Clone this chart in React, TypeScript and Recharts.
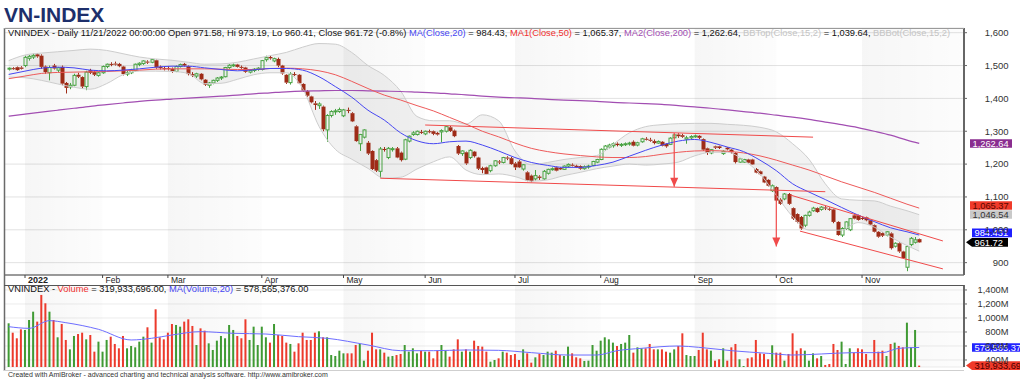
import {
  ComposedChart,
  Bar,
  Line,
  Area,
  XAxis,
  YAxis,
  CartesianGrid,
  ReferenceArea,
  ReferenceLine,
  ReferenceDot,
} from 'recharts';

// one row per session: [open, high, low, close, volume (millions)]
const dec21 = [
  [1490, 1494, 1485, 1492, 924], [1492, 1495, 1487, 1491, 790], [1495, 1497, 1484, 1486, 710], [1494, 1498, 1488, 1490, 838],
];
const jan22 = [
  [1500, 1530, 1495, 1525, 829], [1522, 1532, 1515, 1528, 971], [1526, 1536, 1520, 1531, 1090], [1534, 1537, 1524, 1528, 948],
  [1530, 1534, 1490, 1496, 1329], [1497, 1500, 1475, 1480, 1210], [1478, 1500, 1455, 1494, 1090], [1500, 1505, 1488, 1491, 971],
  [1486, 1496, 1480, 1493, 724], [1496, 1500, 1440, 1445, 914], [1447, 1450, 1415, 1432, 686], [1435, 1447, 1428, 1440, 552],
  [1440, 1475, 1437, 1470, 743], [1472, 1478, 1462, 1466, 771], [1465, 1467, 1430, 1436, 790], [1436, 1484, 1425, 1480, 695],
  [1486, 1490, 1474, 1478, 757], [1480, 1485, 1468, 1472, 519], [1470, 1480, 1466, 1478, 662],
];
const feb22 = [
  [1478, 1500, 1475, 1497, 519], [1497, 1506, 1492, 1504, 686], [1505, 1510, 1498, 1502, 733], [1506, 1512, 1500, 1503, 629],
  [1505, 1508, 1495, 1498, 567], [1497, 1499, 1470, 1474, 743], [1474, 1484, 1468, 1478, 567], [1478, 1490, 1474, 1486, 600],
  [1485, 1506, 1482, 1504, 581], [1503, 1510, 1498, 1507, 662], [1506, 1516, 1502, 1514, 733], [1512, 1516, 1505, 1509, 867],
  [1510, 1520, 1507, 1518, 648], [1516, 1518, 1490, 1494, 1124], [1496, 1500, 1488, 1492, 724], [1492, 1497, 1485, 1490, 695],
];
const mar22 = [
  [1492, 1498, 1485, 1490, 790], [1490, 1494, 1478, 1481, 914], [1482, 1500, 1480, 1497, 900], [1497, 1506, 1494, 1503, 876],
  [1505, 1508, 1497, 1500, 948], [1498, 1500, 1470, 1474, 981], [1474, 1480, 1465, 1470, 886], [1468, 1478, 1462, 1475, 614],
  [1475, 1477, 1455, 1458, 852], [1457, 1459, 1438, 1442, 819], [1440, 1450, 1432, 1447, 638], [1447, 1457, 1443, 1455, 543],
  [1455, 1465, 1450, 1462, 676], [1462, 1468, 1456, 1465, 743], [1466, 1496, 1464, 1494, 710], [1494, 1504, 1490, 1501, 900],
  [1500, 1506, 1496, 1502, 829], [1503, 1505, 1494, 1496, 743], [1496, 1500, 1490, 1494, 710], [1494, 1496, 1478, 1481, 981],
  [1480, 1488, 1476, 1485, 686], [1485, 1492, 1480, 1489, 876], [1488, 1495, 1484, 1492, 614],
];
const apr22 = [
  [1488, 1517, 1485, 1515, 876], [1518, 1530, 1512, 1524, 724], [1526, 1530, 1518, 1522, 648], [1514, 1524, 1510, 1521, 914],
  [1520, 1524, 1495, 1500, 757], [1500, 1502, 1472, 1476, 743], [1472, 1474, 1444, 1448, 648], [1448, 1480, 1442, 1474, 629],
  [1474, 1480, 1468, 1472, 519], [1472, 1474, 1444, 1446, 638], [1444, 1446, 1420, 1424, 790], [1422, 1425, 1405, 1408, 686],
  [1406, 1408, 1385, 1388, 686], [1385, 1392, 1365, 1380, 790], [1378, 1388, 1368, 1383, 810], [1375, 1378, 1300, 1306, 724],
  [1304, 1352, 1268, 1348, 724], [1348, 1364, 1342, 1360, 471], [1360, 1368, 1350, 1362, 457], [1360, 1372, 1356, 1366, 533],
];
const may22 = [
  [1347, 1368, 1343, 1365, 495], [1365, 1372, 1355, 1362, 495], [1355, 1358, 1328, 1330, 495], [1315, 1318, 1268, 1270, 614],
  [1262, 1292, 1240, 1290, 629], [1282, 1306, 1278, 1304, 390], [1265, 1270, 1228, 1232, 533], [1240, 1242, 1182, 1185, 790],
  [1212, 1215, 1176, 1180, 552], [1178, 1252, 1158, 1246, 552], [1246, 1252, 1238, 1245, 505], [1220, 1252, 1215, 1248, 448],
  [1245, 1252, 1238, 1247, 457], [1248, 1252, 1218, 1220, 471], [1235, 1238, 1208, 1212, 486], [1215, 1277, 1212, 1274, 614],
  [1270, 1287, 1266, 1285, 519], [1290, 1300, 1286, 1295, 567], [1290, 1302, 1287, 1300, 495], [1298, 1304, 1292, 1296, 533],
];
const jun22 = [
  [1292, 1302, 1288, 1300, 519], [1300, 1305, 1294, 1298, 519], [1300, 1302, 1288, 1292, 424], [1295, 1298, 1287, 1290, 533],
  [1298, 1306, 1266, 1302, 614], [1300, 1316, 1296, 1314, 533], [1312, 1316, 1298, 1301, 448], [1302, 1305, 1282, 1285, 552],
  [1255, 1258, 1228, 1232, 695], [1232, 1242, 1225, 1240, 519], [1236, 1238, 1198, 1202, 552], [1220, 1245, 1215, 1242, 519],
  [1238, 1240, 1220, 1224, 676], [1220, 1222, 1182, 1186, 600], [1188, 1192, 1172, 1182, 591], [1190, 1192, 1168, 1170, 519],
  [1180, 1198, 1175, 1195, 376], [1195, 1212, 1192, 1210, 400], [1208, 1212, 1200, 1205, 424], [1205, 1222, 1202, 1220, 519],
  [1220, 1224, 1212, 1218, 505], [1218, 1222, 1198, 1200, 471],
];
const jul22 = [
  [1202, 1206, 1182, 1190, 486], [1208, 1212, 1188, 1190, 400], [1185, 1200, 1180, 1198, 552], [1175, 1178, 1148, 1150, 495],
  [1165, 1168, 1145, 1148, 362], [1155, 1182, 1150, 1165, 438], [1162, 1166, 1152, 1158, 486], [1155, 1182, 1152, 1178, 471],
  [1172, 1186, 1168, 1184, 519], [1184, 1190, 1180, 1186, 505], [1190, 1192, 1178, 1180, 533], [1188, 1190, 1182, 1184, 471],
  [1184, 1196, 1182, 1194, 457], [1194, 1202, 1190, 1199, 591], [1198, 1202, 1193, 1197, 495], [1195, 1198, 1188, 1190, 438],
  [1194, 1196, 1183, 1186, 424], [1186, 1196, 1183, 1192, 386], [1192, 1198, 1186, 1194, 390], [1196, 1210, 1194, 1208, 614],
  [1206, 1216, 1203, 1214, 533],
];
const aug22 = [
  [1214, 1248, 1212, 1245, 676], [1245, 1258, 1240, 1255, 724], [1252, 1262, 1248, 1258, 695], [1256, 1266, 1250, 1262, 648],
  [1262, 1266, 1254, 1258, 600], [1258, 1264, 1252, 1260, 629], [1260, 1266, 1255, 1262, 648], [1262, 1268, 1256, 1264, 757],
  [1268, 1272, 1254, 1256, 505], [1258, 1268, 1254, 1265, 581], [1268, 1280, 1265, 1277, 567], [1277, 1282, 1272, 1276, 567],
  [1274, 1280, 1268, 1273, 629], [1270, 1275, 1260, 1264, 552], [1264, 1272, 1262, 1269, 552], [1268, 1270, 1254, 1256, 552],
  [1262, 1264, 1250, 1254, 519], [1260, 1282, 1258, 1279, 505], [1280, 1292, 1278, 1289, 552], [1290, 1294, 1280, 1285, 600],
  [1288, 1292, 1280, 1283, 781], [1276, 1286, 1262, 1280, 471], [1280, 1288, 1276, 1284, 457],
];
const sep22 = [
  [1284, 1290, 1280, 1286, 457], [1286, 1288, 1276, 1280, 543], [1276, 1278, 1240, 1244, 790], [1248, 1250, 1228, 1234, 552],
  [1234, 1246, 1230, 1244, 533], [1254, 1256, 1246, 1250, 390], [1254, 1256, 1246, 1249, 410], [1232, 1242, 1228, 1239, 567],
  [1250, 1252, 1242, 1245, 390], [1244, 1246, 1232, 1236, 581], [1234, 1236, 1202, 1206, 629], [1206, 1218, 1204, 1216, 410],
  [1206, 1216, 1204, 1214, 314], [1214, 1216, 1202, 1204, 424], [1214, 1216, 1198, 1199, 438], [1185, 1188, 1172, 1174, 686],
  [1178, 1180, 1166, 1169, 495], [1162, 1164, 1142, 1144, 486], [1152, 1154, 1132, 1134, 410], [1119, 1138, 1115, 1134, 610],
];
const oct22 = [
  [1130, 1132, 1086, 1089, 505], [1092, 1096, 1076, 1079, 505], [1094, 1112, 1090, 1109, 390], [1109, 1112, 1076, 1079, 486],
  [1066, 1068, 1030, 1034, 781], [1048, 1050, 1020, 1024, 533], [1039, 1042, 1000, 1004, 567], [1014, 1046, 1008, 1044, 533],
  [1044, 1058, 1040, 1054, 390], [1058, 1070, 1055, 1066, 495], [1066, 1068, 1052, 1054, 424], [1062, 1072, 1058, 1069, 457],
  [1068, 1072, 1060, 1066, 329], [1064, 1068, 1058, 1062, 343], [1062, 1064, 1020, 1024, 629], [1024, 1026, 982, 984, 543],
  [984, 1008, 978, 1004, 662], [1004, 1026, 1000, 1024, 343], [1000, 1036, 996, 1034, 567], [1044, 1046, 1032, 1034, 505],
  [1044, 1046, 1028, 1030, 567],
];
const nov22 = [
  [1036, 1040, 1030, 1034, 552], [1038, 1040, 1026, 1029, 486], [1029, 1030, 1014, 1016, 400], [1014, 1016, 992, 994, 686],
  [994, 996, 976, 979, 519], [990, 992, 978, 982, 533], [984, 996, 980, 994, 457], [989, 992, 940, 944, 629],
  [950, 962, 946, 959, 648], [959, 962, 930, 934, 600], [934, 936, 912, 914, 581], [886, 952, 874, 949, 933],
  [955, 978, 950, 974, 581], [962, 978, 958, 969.5, 829], [971.58, 973.19, 960.41, 961.72, 319.93],
];

// month labels on the time axis and the session each month starts on
const monthLabels = ['2022', 'Feb', 'Mar', 'Apr', 'May', 'Jun', 'Jul', 'Aug', 'Sep', 'Oct', 'Nov'];
const monthStart = [4, 23, 39, 62, 82, 102, 124, 145, 168, 188, 209];

// indicator readings (session index -> value)
const indIdx = [0, 4, 8, 12, 16, 20, 24, 28, 32, 36, 40, 44, 48, 52, 56, 60, 64, 68, 72, 76, 80, 84, 88, 92, 96, 100, 104, 108, 112, 116,
  120, 124, 128, 132, 136, 140, 144, 148, 152, 156, 160, 164, 168, 172, 176, 180, 184, 188, 192, 196, 200, 204, 208, 212, 216, 220, 223];
const ma20 = [1473, 1483, 1492, 1495, 1493, 1486, 1484, 1486, 1490, 1495, 1498, 1498, 1493, 1488, 1484, 1487, 1491, 1491, 1486, 1466,
  1436, 1404, 1364, 1334, 1295, 1271, 1262, 1268, 1270, 1258, 1240, 1220, 1205, 1196, 1190, 1190, 1196, 1206, 1224, 1242,
  1258, 1270, 1275, 1266, 1252, 1238, 1212, 1180, 1140, 1115, 1092, 1068, 1045, 1025, 1006, 994, 984];
const ma50 = [1460, 1468, 1476, 1479, 1480, 1481, 1482, 1484, 1486, 1489, 1490, 1490, 1490, 1489, 1488, 1488, 1491, 1492, 1490, 1484,
  1472, 1452, 1430, 1410, 1395, 1378, 1362, 1342, 1322, 1300, 1283, 1264, 1248, 1238, 1231, 1226, 1222, 1220, 1220, 1223,
  1230, 1236, 1240, 1241, 1239, 1234, 1225, 1212, 1197, 1182, 1164, 1146, 1130, 1114, 1096, 1078, 1066];
const ma200 = [1346, 1352, 1358, 1364, 1370, 1376, 1381, 1386, 1391, 1395, 1398, 1401, 1404, 1407, 1410, 1414, 1417, 1420, 1422, 1423,
  1424, 1424, 1423, 1422, 1421, 1419, 1417, 1414, 1411, 1407, 1404, 1402, 1400, 1397, 1395, 1393, 1391, 1388, 1386, 1384,
  1382, 1378, 1374, 1370, 1365, 1360, 1355, 1349, 1343, 1336, 1328, 1320, 1311, 1300, 1288, 1273, 1263];
const bbTop = [1515, 1532, 1538, 1542, 1546, 1550, 1546, 1536, 1526, 1520, 1516, 1510, 1504, 1505, 1510, 1520, 1530, 1540, 1556, 1567,
  1565, 1540, 1500, 1470, 1422, 1345, 1332, 1332, 1322, 1350, 1332, 1240, 1198, 1205, 1214, 1220, 1226, 1260, 1295, 1314,
  1320, 1323, 1324, 1324, 1321, 1318, 1312, 1298, 1262, 1215, 1140, 1094, 1090, 1088, 1072, 1058, 1046];
const bbBot = [1465, 1463, 1455, 1444, 1434, 1428, 1445, 1472, 1483, 1483, 1482, 1476, 1445, 1446, 1458, 1472, 1478, 1478, 1430, 1315,
  1245, 1215, 1187, 1157, 1160, 1185, 1207, 1222, 1182, 1168, 1170, 1162, 1148, 1152, 1165, 1175, 1186, 1194, 1200, 1197,
  1200, 1206, 1225, 1236, 1236, 1212, 1170, 1105, 1040, 999, 998, 999, 1022, 1008, 978, 952, 935];

// 20-day volume average (millions)
const volMaIdx = [0, 5, 10, 14, 22, 30, 35, 40, 47, 55, 63, 71, 78, 88, 96, 104, 112, 120, 128, 137, 144, 149, 155, 164, 169, 177, 186, 192, 199, 207, 214, 218, 223];
const volMaVal = [876, 852, 962, 933, 838, 686, 710, 757, 805, 781, 771, 733, 710, 614, 533, 533, 543, 538, 505, 471, 471, 533, 567, 600, 581, 533, 495, 471, 486, 505, 505, 567, 579];

// hand-drawn trend lines: [session, price] end points
const channelTop = [[102, 1319], [197, 1282]];
const channelBottom = [[91, 1157], [200, 1116]];
const wedgeTop = [[191.4, 1106], [228.8, 966]];
const wedgeBottom = [[193.8, 996], [228.8, 881]];
// target arrows: [session, from price, to price]
const arrows = [[163, 1295, 1131], [188, 1127, 949]];

const priceTicks = [900, 1000, 1100, 1200, 1300, 1400, 1500, 1600];
const volTicks = [400, 600, 800, 1000, 1200, 1400];

const lastClose = 961.72;
const lastMa20 = 984.431;
const lastMa50 = 1065.37;
const lastMa200 = 1262.64;
const lastBand = 1046.54;
const lastVolume = 319933696;
const lastVolMa = 578565376;

const candles = [...dec21, ...jan22, ...feb22, ...mar22, ...apr22, ...may22, ...jun22, ...jul22, ...aug22, ...sep22, ...oct22, ...nov22]
  .map(([o, h, l, c, v], i) => ({ i, o, h, l, c, v }));
const indRows = indIdx.map((i, k) => ({
  i, ma20: ma20[k], ma50: ma50[k], ma200: ma200[k], top: bbTop[k], bot: bbBot[k], band: [bbBot[k], bbTop[k]],
}));
const volMaRows = volMaIdx.map((i, k) => ({ i, m: volMaVal[k] }));

const FONT = '"Liberation Sans", Arial, sans-serif';
const X_DOMAIN = [-0.9, 233.97];
const UP = '#49a343';
const DOWN = '#9e2b17';
const VUP = '#3f9a33';
const VDOWN = '#ec3a2c';
const BLUE = '#4646f2';
const RED = '#ee5a5a';
const PURPLE = '#a24eb2';
const TREND = '#f04a4a';

const grayMonths = monthStart
  .map((s, k) => [s, monthStart[k + 1] ?? X_DOMAIN[1]])
  .filter((_, k) => k % 2 === 0);

const fmt = (v: number, d = 0) =>
  v.toLocaleString('en-US', { minimumFractionDigits: d, maximumFractionDigits: d });

function Candle(props: any) {
  const { x, y, width, height, payload } = props;
  if (!payload || !height) return null;
  const { o, h, l, c } = payload;
  const py = (v: number) => y + ((h - v) / (h - l)) * height;
  const cx = Math.round(x + width / 2);
  const up = c >= o;
  const color = up ? UP : DOWN;
  const top = py(Math.max(o, c));
  const bh = Math.max(py(Math.min(o, c)) - top, 1);
  return (
    <g>
      <line x1={cx + 0.5} x2={cx + 0.5} y1={y} y2={top} stroke={color} />
      <line x1={cx + 0.5} x2={cx + 0.5} y1={top + bh} y2={y + height} stroke={color} />
      {up ? (
        <rect x={cx - 1} y={top} width={3} height={bh} fill="none" stroke={color} strokeWidth={1} />
      ) : (
        <rect x={cx - 1.5} y={top} width={4} height={bh} fill={color} />
      )}
    </g>
  );
}

function VolBar(props: any) {
  const { x, y, width, height, payload } = props;
  if (!payload || !height) return null;
  return <rect x={x} y={y} width={width} height={height} fill={payload.c >= payload.o ? VUP : VDOWN} />;
}

const tag = (text: string, bg: string, fg: string, dy = 0, left = 970, right = 1012, pointer = false) =>
  (p: any) => {
    const vb = p.viewBox;
    if (!vb) return null;
    const cy = vb.y + dy;
    const h = 8.6;
    const t = cy - h / 2;
    const d = pointer
      ? `M${left - 6},${cy}L${left},${t}L${right},${t}L${right},${t + h}L${left},${t + h}Z`
      : `M${left},${t}L${right},${t}L${right},${t + h}L${left},${t + h}Z`;
    return (
      <g>
        <path d={d} fill={bg} />
        <text x={left + 2.5} y={cy + 3.3} fontSize={9.3} fill={fg}>{text}</text>
      </g>
    );
  };

const triangle = (p: any) => (
  <path d={`M${p.cx - 4},${p.cy - 9}L${p.cx + 4},${p.cy - 9}L${p.cx},${p.cy}Z`} fill={TREND} />
);

export default function App() {
  return (
    <div style={{ position: 'relative', width: 1020, height: 384, background: '#fff', overflow: 'hidden', fontFamily: FONT }}>
      <style>{'body{margin:0}'}</style>

      <div style={{ position: 'absolute', left: 0, top: 0 }}>
        <ComposedChart width={1020} height={286} data={candles} margin={{ top: 28, right: 0, bottom: 1, left: 5 }}>
          <defs>
            <linearGradient id="monthBand" x1="0" y1="0" x2="1" y2="0">
              <stop offset="0%" stopColor="#000" stopOpacity={0.07} />
              <stop offset="100%" stopColor="#000" stopOpacity={0.02} />
            </linearGradient>
          </defs>
          <CartesianGrid vertical={false} stroke="#e2e2e2" />
          {grayMonths.map(([a, b]) => (
            <ReferenceArea key={a} x1={a} x2={b} fill="url(#monthBand)" stroke="none" ifOverflow="visible" />
          ))}
          <XAxis
            dataKey="i"
            type="number"
            domain={X_DOMAIN}
            allowDataOverflow
            ticks={monthStart}
            interval={0}
            height={10}
            tickSize={3}
            stroke="#444"
            tick={(p: any) => {
              const k = monthStart.indexOf(p.payload.value);
              return (
                <text x={p.x + 3} y={p.y + 3} fontSize={k === 0 ? 9 : 8.5} fontWeight={k === 0 ? 700 : 400} fill="#222">
                  {monthLabels[k]}
                </text>
              );
            }}
          />
          <YAxis
            orientation="right"
            width={56}
            domain={[862.4, 1614.3]}
            allowDataOverflow
            ticks={priceTicks}
            interval={0}
            tickSize={3}
            tickLine={{ stroke: '#666' }}
            axisLine={{ stroke: '#666', strokeWidth: 2 }}
            tick={(p: any) => (
              <text x={1008.5} y={p.y + 3.3} textAnchor="end" fontSize={9.5} fill="#333">
                {fmt(p.payload.value)}
              </text>
            )}
          />
          <Area data={indRows} dataKey="band" type="monotone" stroke="none" fill="#000" fillOpacity={0.05} isAnimationActive={false} />
          <Line data={indRows} dataKey="top" type="monotone" stroke="#cdcdcd" strokeWidth={1} dot={false} activeDot={false} isAnimationActive={false} />
          <Line data={indRows} dataKey="bot" type="monotone" stroke="#cdcdcd" strokeWidth={1} dot={false} activeDot={false} isAnimationActive={false} />
          <Bar dataKey={(d: any) => [d.l, d.h]} barSize={4} shape={Candle} isAnimationActive={false} />
          <Line data={indRows} dataKey="ma200" type="monotone" stroke={PURPLE} strokeWidth={1.2} dot={false} activeDot={false} isAnimationActive={false} />
          <Line data={indRows} dataKey="ma50" type="monotone" stroke={RED} strokeWidth={1} dot={false} activeDot={false} isAnimationActive={false} />
          <Line data={indRows} dataKey="ma20" type="monotone" stroke={BLUE} strokeWidth={1} dot={false} activeDot={false} isAnimationActive={false} />
          {[channelTop, channelBottom, wedgeTop, wedgeBottom].map((s, k) => (
            <ReferenceLine
              key={k}
              segment={[{ x: s[0][0], y: s[0][1] }, { x: s[1][0], y: s[1][1] }]}
              stroke={TREND}
              strokeWidth={1}
              ifOverflow="visible"
            />
          ))}
          {arrows.map(([x, from, to]) => (
            <ReferenceLine key={`a${x}`} segment={[{ x, y: from }, { x, y: to }]} stroke={TREND} strokeWidth={1.2} ifOverflow="visible" />
          ))}
          {arrows.map(([x, , to]) => (
            <ReferenceDot key={`t${x}`} x={x} y={to} r={4} shape={triangle} ifOverflow="visible" />
          ))}
          <ReferenceLine y={lastMa200} stroke="none" label={tag(fmt(lastMa200, 2), '#8a2d8f', '#fff')} />
          <ReferenceLine y={lastMa50} stroke="none" label={tag(fmt(lastMa50, 2), '#f03a2a', '#5a0800', -2.8)} />
          <ReferenceLine y={lastBand} stroke="none" label={tag(fmt(lastBand, 2), '#c9c9c9', '#333')} />
          <ReferenceLine y={lastMa20} stroke="none" label={tag(fmt(lastMa20, 3), '#1f1fff', '#fff', -2, 972)} />
          <ReferenceLine y={lastClose} stroke="none" label={tag(fmt(lastClose, 2), '#000', '#fff', 0, 972, 1008, true)} />
        </ComposedChart>
      </div>

      <div style={{ position: 'absolute', left: 0, top: 285 }}>
        <ComposedChart width={1020} height={85} data={candles} margin={{ top: 0, right: 0, bottom: 3, left: 5 }}>
          <defs>
            <linearGradient id="monthBandV" x1="0" y1="0" x2="1" y2="0">
              <stop offset="0%" stopColor="#000" stopOpacity={0.07} />
              <stop offset="100%" stopColor="#000" stopOpacity={0.02} />
            </linearGradient>
          </defs>
          <CartesianGrid vertical={false} stroke="#ececec" />
          {grayMonths.map(([a, b]) => (
            <ReferenceArea key={a} x1={a} x2={b} fill="url(#monthBandV)" stroke="none" ifOverflow="visible" />
          ))}
          <XAxis dataKey="i" type="number" domain={X_DOMAIN} allowDataOverflow hide />
          <YAxis
            orientation="right"
            width={56}
            domain={[300, 1471]}
            allowDataOverflow
            ticks={volTicks}
            interval={0}
            tickSize={3}
            tickLine={{ stroke: '#666' }}
            axisLine={{ stroke: '#666', strokeWidth: 2 }}
            tick={(p: any) => (
              <text x={1008.5} y={p.y + 3.3} textAnchor="end" fontSize={9.3} fill="#333">
                {fmt(p.payload.value)}M
              </text>
            )}
          />
          <Bar dataKey="v" barSize={2} shape={VolBar} isAnimationActive={false} />
          <Line data={volMaRows} dataKey="m" type="monotone" stroke="#6d6dff" strokeWidth={1} dot={false} activeDot={false} isAnimationActive={false} />
          <ReferenceLine y={lastVolMa / 1e6} stroke="none" label={tag(fmt(lastVolMa), '#2323ff', '#fff', 0, 972, 1030)} />
          <ReferenceLine y={lastVolume / 1e6} stroke="none" label={tag(fmt(lastVolume), '#f03a2a', '#4a0000', 0, 972, 1030, true)} />
        </ComposedChart>
      </div>

      <svg width={1020} height={384} style={{ position: 'absolute', left: 0, top: 0, pointerEvents: 'none' }}>
        <line x1={4.5} x2={4.5} y1={28} y2={371} stroke="#6a6a6a" strokeWidth={1.5} />
        <line x1={4} x2={964} y1={28.5} y2={28.5} stroke="#9a9a9a" />
        <line x1={4} x2={964} y1={285.5} y2={285.5} stroke="#555" />
        <line x1={4} x2={964} y1={370.5} y2={370.5} stroke="#cfcfcf" />
      </svg>

      <div style={{ position: 'absolute', left: 4, top: 4, fontSize: 21, lineHeight: '21px', fontWeight: 700, color: '#1d2f6b' }}>
        VN-INDEX
      </div>
      <div style={{ position: 'absolute', left: 8, top: 27.5, width: 955, height: 11, overflow: 'hidden', whiteSpace: 'nowrap', fontSize: 9.3, lineHeight: '11px', color: '#111' }}>
        VNINDEX - Daily 11/21/2022 00:00:00 Open 971.58, Hi 973.19, Lo 960.41, Close 961.72 (-0.8%){' '}
        <span style={{ color: BLUE }}>MA(Close,20)</span> = 984.43,{' '}
        <span style={{ color: '#f03030' }}>MA1(Close,50)</span> = 1,065.37,{' '}
        <span style={{ color: PURPLE }}>MA2(Close,200)</span> = 1,262.64,{' '}
        <span style={{ color: '#c4c4c4' }}>BBTop(Close,15,2)</span> = 1,039.64,{' '}
        <span style={{ color: '#c4c4c4' }}>BBBot(Close,15,2)</span>
      </div>
      <div style={{ position: 'absolute', left: 8, top: 284, whiteSpace: 'nowrap', fontSize: 9.3, lineHeight: '11px', color: '#111' }}>
        VNINDEX - <span style={{ color: '#f03030' }}>Volume</span> = 319,933,696.00,{' '}
        <span style={{ color: BLUE }}>MA(Volume,20)</span> = 578,565,376.00
      </div>
      <div style={{ position: 'absolute', left: 8, top: 370.5, whiteSpace: 'nowrap', fontSize: 7, lineHeight: '8px', color: '#333' }}>
        Created with AmiBroker - advanced charting and technical analysis software. http://www.amibroker.com
      </div>
    </div>
  );
}
